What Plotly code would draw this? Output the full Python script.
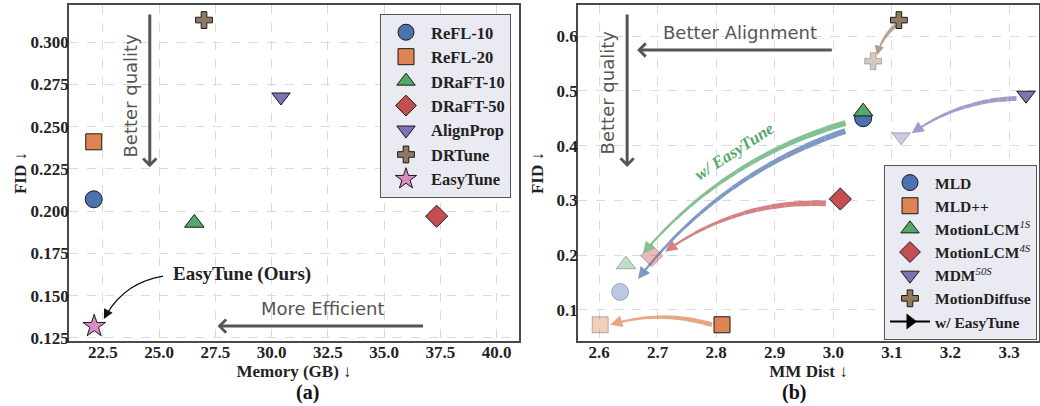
import math
import plotly.graph_objects as go

W, H = 1040, 406

# ---------------- data: panel (a) ----------------
a_methods = ["ReFL-10", "ReFL-20", "DRaFT-10", "DRaFT-50", "AlignProp", "DRTune", "EasyTune"]
a_memory = [22.1, 22.1, 26.57, 37.34, 30.42, 27.0, 22.12]
a_fid = [0.207, 0.241, 0.193, 0.197, 0.2675, 0.313, 0.132]
a_xticks = [22.5, 25.0, 27.5, 30.0, 32.5, 35.0, 37.5, 40.0]
a_yticks = [0.125, 0.150, 0.175, 0.200, 0.225, 0.250, 0.275, 0.300]

# ---------------- data: panel (b) ----------------
SUP = '<span style="font-weight:normal"><sup><i>%s</i></sup></span>'
b_methods = ["MLD", "MLD++", "MotionLCM" + SUP % "1S", "MotionLCM" + SUP % "4S",
             "MDM" + SUP % "50S", "MotionDiffuse"]
b_mm_base = [3.051, 2.810, 3.051, 3.012, 3.329, 3.112]
b_fid_base = [0.450, 0.073, 0.462, 0.3025, 0.492, 0.629]
b_mm_easy = [2.636, 2.602, 2.646, 2.690, 3.116, 3.068]
b_fid_easy = [0.133, 0.073, 0.183, 0.199, 0.416, 0.554]
b_xticks = [2.6, 2.7, 2.8, 2.9, 3.0, 3.1, 3.2, 3.3]
b_yticks = [0.1, 0.2, 0.3, 0.4, 0.5, 0.6]

# ---------------- styles ----------------
BLUE, ORANGE, GREEN, RED, PURPLE, BROWN, PINK = ("#4C72B0", "#DD8452", "#55A868", "#C44E52",
                                                 "#8172B3", "#937860", "#DA8BC3")
a_colors = [BLUE, ORANGE, GREEN, RED, PURPLE, BROWN, PINK]
a_symbols = ["circle", "square", "triangle-up", "diamond", "triangle-down", "cross", "star"]
a_sizes = [17, 16, 17, 17, 16, 14, 17]
b_colors = [BLUE, ORANGE, GREEN, RED, PURPLE, BROWN]
b_symbols = ["circle", "square", "triangle-up", "diamond", "triangle-down", "cross"]
b_sizes = [17, 16, 17, 17, 16, 14]
# arrow styling (pixels): shrink from start marker, shrink from end marker, bow, widths
arr_shrinkA = [22, 10, 21, 15, 10, 6]
arr_shrinkB = [22, 10, 20, 14, 11, 7]
arr_bow = [0.15, 0.15, 0.15, 0.17, 0.15, 0.15]
arr_w0 = [6, 5, 6, 6, 5, 4]
arr_w1 = [2, 2, 2, 2, 2, 1.6]

SERIF = "Liberation Serif"
HAND = "DejaVu Sans"
HAND_SIZE = 18
GRAY = "#555555"

GEO = {
    "a": dict(xd=(69 / W, 519 / W), yd=(1 - 341 / H, 1 - 5 / H), xr=(21.0, 41.0), yr=(0.1232, 0.3219),
              xref="x", yref="y"),
    "b": dict(xd=(578 / W, 1039 / W), yd=(1 - 341 / H, 1 - 5 / H), xr=(2.5641, 3.3512), yr=(0.0434, 0.6566),
              xref="x2", yref="y2"),
}


def to_px(g, x, y):
    px = g["xd"][0] * W + (x - g["xr"][0]) / (g["xr"][1] - g["xr"][0]) * (g["xd"][1] - g["xd"][0]) * W
    py = (1 - g["yd"][1]) * H + (g["yr"][1] - y) / (g["yr"][1] - g["yr"][0]) * (g["yd"][1] - g["yd"][0]) * H
    return px, py


def to_data(g, px, py):
    x = g["xr"][0] + (px - g["xd"][0] * W) / ((g["xd"][1] - g["xd"][0]) * W) * (g["xr"][1] - g["xr"][0])
    y = g["yr"][1] - (py - (1 - g["yd"][1]) * H) / ((g["yd"][1] - g["yd"][0]) * H) * (g["yr"][1] - g["yr"][0])
    return x, y


def blend(hexc, alpha):
    h = hexc.lstrip("#")
    r, gg, b = int(h[0:2], 16), int(h[2:4], 16), int(h[4:6], 16)
    f = lambda c: int(round(alpha * c + (1 - alpha) * 255))
    return "rgb(%d,%d,%d)" % (f(r), f(gg), f(b))


def rgba(hexc, alpha):
    h = hexc.lstrip("#")
    return "rgba(%d,%d,%d,%.2f)" % (int(h[0:2], 16), int(h[2:4], 16), int(h[4:6], 16), alpha)


shapes, annotations = [], []


def curved_arrow(g, p0, p1, shrinkA, shrinkB, bow, w0, w1, color, head=2, headsize=1.2, nseg=12):
    P0 = to_px(g, *p0)
    P1 = to_px(g, *p1)
    dx, dy = P1[0] - P0[0], P1[1] - P0[1]
    L0 = math.hypot(dx, dy)
    ux, uy = dx / L0, dy / L0
    S = (P0[0] + shrinkA * ux, P0[1] + shrinkA * uy)
    E = (P1[0] - shrinkB * ux, P1[1] - shrinkB * uy)
    cx, cy = E[0] - S[0], E[1] - S[1]
    L = math.hypot(cx, cy)
    nx, ny = -cy / L, cx / L
    C = ((S[0] + E[0]) / 2 + bow * L * nx, (S[1] + E[1]) / 2 + bow * L * ny)

    def blossom(t0, t1):
        a = (1 - t0) * (1 - t1)
        b = (1 - t0) * t1 + t0 * (1 - t1)
        c = t0 * t1
        return (a * S[0] + b * C[0] + c * E[0], a * S[1] + b * C[1] + c * E[1])

    t_end = max(0.5, 1 - (headsize * w1 * 2.5) / L)
    for i in range(nseg):
        t0 = t_end * i / nseg
        t1 = t_end * (i + 1) / nseg
        A = blossom(t0, t0)
        Q = blossom(t0, t1)
        B = blossom(t1, t1)
        Ad, Qd, Bd = to_data(g, *A), to_data(g, *Q), to_data(g, *B)
        w = w0 + (w1 - w0) * (i + 0.5) / nseg
        shapes.append(dict(type="path", xref=g["xref"], yref=g["yref"], layer="between",
                           path="M %.6f,%.6f Q %.6f,%.6f %.6f,%.6f" % (Ad + Qd + Bd),
                           line=dict(color=color, width=w)))
    tx, ty = E[0] - C[0], E[1] - C[1]
    tl = math.hypot(tx, ty)
    tail = (E[0] - 8 * tx / tl, E[1] - 8 * ty / tl)
    tip_d = to_data(g, *E)
    tail_d = to_data(g, *tail)
    annotations.append(dict(x=tip_d[0], y=tip_d[1], ax=tail_d[0], ay=tail_d[1], xref=g["xref"],
                            yref=g["yref"], axref=g["xref"], ayref=g["yref"], text="", showarrow=True,
                            arrowhead=head, arrowsize=headsize, arrowwidth=w1, arrowcolor=color, standoff=0))


fig = go.Figure()

# ---------------- panel (a) ----------------
for i, m in enumerate(a_methods):
    fig.add_trace(go.Scatter(
        x=[a_memory[i]], y=[a_fid[i]], mode="markers", name=m, legend="legend",
        marker=dict(symbol=a_symbols[i], size=a_sizes[i], color=a_colors[i],
                    line=dict(color="#1a1a1a", width=1)),
        xaxis="x", yaxis="y", hoverinfo="skip"))

# ---------------- panel (b) ----------------
for i in range(len(b_methods)):
    curved_arrow(GEO["b"], (b_mm_base[i], b_fid_base[i]), (b_mm_easy[i], b_fid_easy[i]),
                 arr_shrinkA[i], arr_shrinkB[i], arr_bow[i], arr_w0[i], arr_w1[i],
                 blend(b_colors[i], 0.72))

fig.add_trace(go.Scatter(
    x=b_mm_easy, y=b_fid_easy, mode="markers", showlegend=False,
    marker=dict(symbol=b_symbols, size=b_sizes, color=[rgba(c, 0.55) for c in b_colors],
                line=dict(color="rgba(30,30,30,0.45)", width=1)),
    xaxis="x2", yaxis="y2", hoverinfo="skip"))

for i, m in enumerate(b_methods):
    fig.add_trace(go.Scatter(
        x=[b_mm_base[i]], y=[b_fid_base[i]], mode="markers", name=m, legend="legend2",
        marker=dict(symbol=b_symbols[i], size=b_sizes[i], color=b_colors[i],
                    line=dict(color="#1a1a1a", width=1)),
        xaxis="x2", yaxis="y2", hoverinfo="skip"))

fig.add_trace(go.Scatter(
    x=[None], y=[None], mode="lines+markers", name="w/ EasyTune", legend="legend2",
    line=dict(color="black", width=2), marker=dict(symbol="triangle-right", size=14, color="black"),
    xaxis="x2", yaxis="y2"))

# ---------------- annotations (a) ----------------
ga = GEO["a"]
annotations += [
    dict(x=23.72, y=0.2685, xref="x", yref="y", text="Better quality", showarrow=False, textangle=-90,
         font=dict(family=HAND, size=HAND_SIZE, color=GRAY)),
    dict(x=24.59, y=0.226, ax=24.59, ay=0.3171, xref="x", yref="y", axref="x", ayref="y", text="",
         showarrow=True, arrowhead=4, arrowsize=0.85, arrowwidth=3, arrowcolor=GRAY, standoff=0),
    dict(x=32.3, y=0.1427, xref="x", yref="y", text="More Efficient", showarrow=False,
         font=dict(family=HAND, size=HAND_SIZE, color=GRAY)),
    dict(x=27.6, y=0.132, ax=36.8, ay=0.132, xref="x", yref="y", axref="x", ayref="y", text="",
         showarrow=True, arrowhead=4, arrowsize=0.85, arrowwidth=3, arrowcolor=GRAY, standoff=0),
    dict(x=28.67, y=0.1628, xref="x", yref="y", text="<b>EasyTune (Ours)</b>", showarrow=False,
         font=dict(family=SERIF, size=19, color="#222")),
]
curved_arrow(ga, (25.18, 0.1616), (a_memory[6], a_fid[6]), 0, 12, 0.25, 1.2, 1.2, "#111",
             head=2, headsize=1.6, nseg=4)

# ---------------- annotations (b) ----------------
annotations += [
    dict(x=2.614, y=0.4975, xref="x2", yref="y2", text="Better quality", showarrow=False, textangle=-90,
         font=dict(family=HAND, size=HAND_SIZE, color=GRAY)),
    dict(x=2.648, y=0.361, ax=2.648, ay=0.642, xref="x2", yref="y2", axref="x2", ayref="y2", text="",
         showarrow=True, arrowhead=4, arrowsize=0.85, arrowwidth=3, arrowcolor=GRAY, standoff=0),
    dict(x=2.84, y=0.607, xref="x2", yref="y2", text="Better Alignment", showarrow=False,
         font=dict(family=HAND, size=HAND_SIZE, color=GRAY)),
    dict(x=2.665, y=0.5745, ax=3.0, ay=0.5745, xref="x2", yref="y2", axref="x2", ayref="y2", text="",
         showarrow=True, arrowhead=4, arrowsize=0.85, arrowwidth=3, arrowcolor=GRAY, standoff=0),
    dict(x=2.8305, y=0.3892, xref="x2", yref="y2", text="<b><i>w/ EasyTune</i></b>", showarrow=False,
         textangle=-33, font=dict(family=SERIF, size=17, color=GREEN)),
    dict(x=294 / W, y=1 - 392 / H, xref="paper", yref="paper", text="<b>(a)</b>", showarrow=False,
         yanchor="middle", font=dict(family=SERIF, size=20, color="#111")),
    dict(x=808 / W, y=1 - 392 / H, xref="paper", yref="paper", text="<b>(b)</b>", showarrow=False,
         yanchor="middle", font=dict(family=SERIF, size=20, color="#111")),
]


def axis(g, ticks, fmt, title, is_x, standoff=0):
    d = dict(range=list(g["xr"] if is_x else g["yr"]), domain=list(g["xd"] if is_x else g["yd"]),
             tickvals=ticks, ticktext=[fmt.format(v) for v in ticks],
             showgrid=True, gridcolor="#dadada", griddash="dash", gridwidth=1, zeroline=False,
             showline=True, linecolor="#4a4a4a", linewidth=1.6, mirror=True, ticks="",
             ticklabelstandoff=-5,
             tickfont=dict(family=SERIF, size=17, color="#222", weight="bold"),
             title=dict(text=title, font=dict(family=SERIF, size=17, color="#222", weight="bold"),
                        standoff=standoff),
             automargin=False, fixedrange=True)
    return d


legend_common = dict(bgcolor="#EAEAF2", bordercolor="#555555", borderwidth=1,
                     itemwidth=40, tracegroupgap=0)

fig.update_layout(
    width=W, height=H, margin=dict(l=0, r=0, t=0, b=0),
    paper_bgcolor="white", plot_bgcolor="white",
    xaxis=dict(axis(GEO["a"], a_xticks, "{:.1f}", "Memory (GB) ↓", True, 0), anchor="y"),
    yaxis=dict(axis(GEO["a"], a_yticks, "{:.3f}", "FID ↓", False), anchor="x"),
    xaxis2=dict(axis(GEO["b"], b_xticks, "{:.1f}", "MM Dist ↓", True, 0), anchor="y2"),
    yaxis2=dict(axis(GEO["b"], b_yticks, "{:.1f}", "FID ↓", False, 9), anchor="x2"),
    legend=dict(legend_common, x=511 / W, xanchor="right", y=1 - 14 / H, yanchor="top",
                font=dict(family=SERIF, size=16.5, color="#222", weight="bold")),
    legend2=dict(legend_common, x=1037 / W, xanchor="right", y=1 - 165 / H, yanchor="top",
                 font=dict(family=SERIF, size=15.5, color="#222", weight="bold")),
    shapes=shapes, annotations=annotations, showlegend=True,
)

fig.write_html("out.html", config={"displayModeBar": False},
               post_script="document.body.style.margin='0';")
